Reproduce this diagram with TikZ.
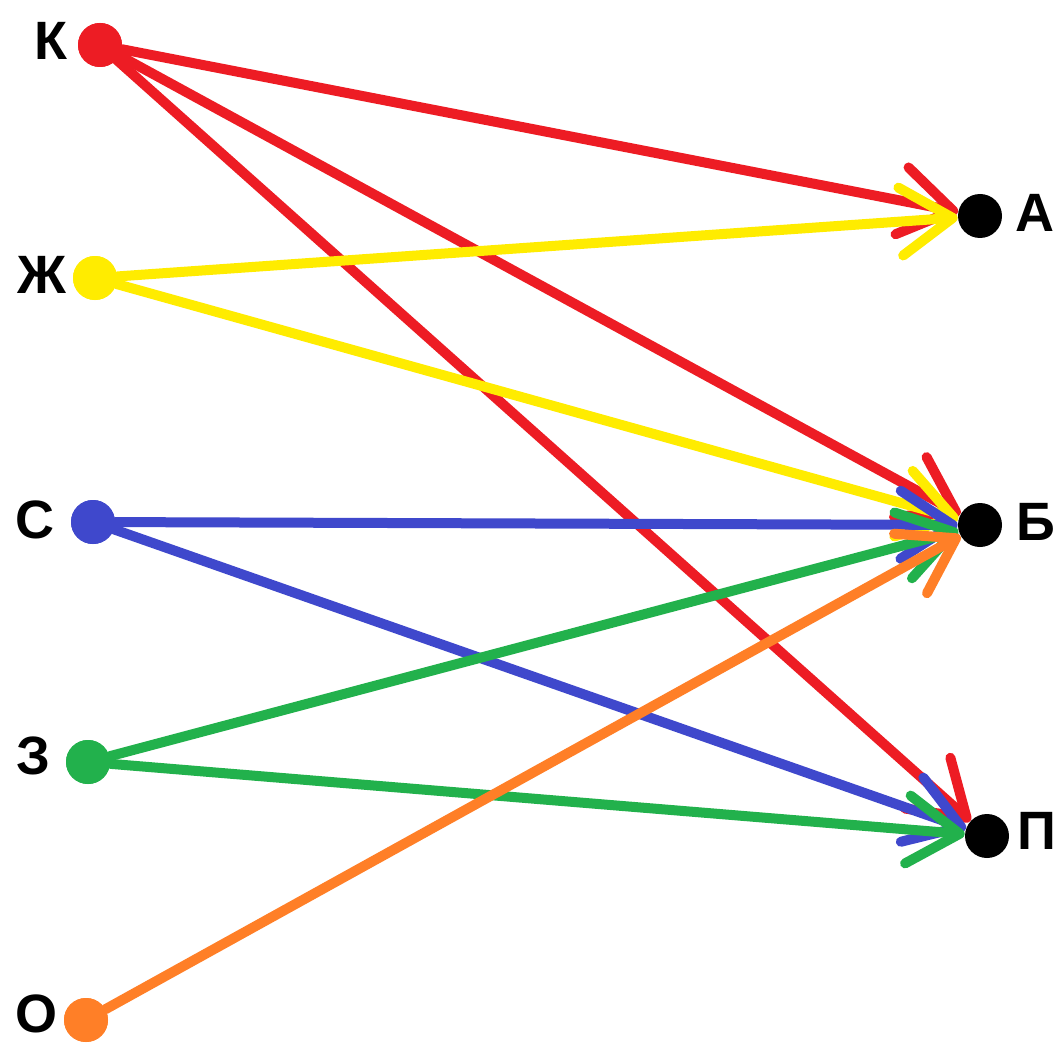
\documentclass[tikz,border=0pt]{standalone}
\usepackage{fontspec}
\setmainfont{Liberation Sans}
\usetikzlibrary{arrows.meta}
\definecolor{cred}{RGB}{237,28,36}
\definecolor{cyellow}{RGB}{255,236,0}
\definecolor{cblue}{RGB}{63,72,204}
\definecolor{cgreen}{RGB}{34,177,76}
\definecolor{corange}{RGB}{255,127,39}
\begin{document}
\begin{tikzpicture}[x=0.5pt,y=-0.5pt,
  dot/.style={circle,fill=#1,inner sep=0pt,minimum size=22pt},
  lbl/.style={font=\fontsize{27}{27}\selectfont\bfseries,inner sep=0pt},
  conn/.style={draw=#1,line width=5pt,line cap=round,line join=round,
    -{Straight Barb[length=26pt,width=34pt,round]}}]
\fill[white] (0,0) rectangle (1059,1043);
\useasboundingbox (0,0) rectangle (1059,1043);
% source dots
\node[dot=cred] (K) at (100,45) {};
\node[dot=cyellow] (Zh) at (95,278) {};
\node[dot=cblue] (S) at (93,522) {};
\node[dot=cgreen] (Z) at (88,762) {};
\node[dot=corange] (O) at (86,1020) {};
% target dots
\node[dot=black] (A) at (980,216) {};
\node[dot=black] (B) at (980,525) {};
\node[dot=black] (P) at (987,836) {};
% labels
\node[lbl] (lK) at (51,41) {К};
\node[lbl] (lZh) at (42,275) {Ж};
\node[lbl] (lS) at (35,520) {С};
\node[lbl] (lZ) at (33,756) {З};
\node[lbl] (lO) at (37,1014) {О};
\node[lbl] (lA) at (1035,213) {А};
\node[lbl] (lB) at (1036,522) {Б};
\node[lbl] (lP) at (1037,831) {П};
% connectors
\draw[conn=cred] (K) -- (A);
\draw[conn=cred] (K) -- (B);
\draw[conn=cred] (K) -- (P);
\draw[conn=cyellow] (Zh) -- (A);
\draw[conn=cyellow] (Zh) -- (B);
\draw[conn=cblue] (S) -- (B);
\draw[conn=cblue] (S) -- (P);
\draw[conn=cgreen] (Z) -- (B);
\draw[conn=cgreen] (Z) -- (P);
\draw[conn=corange] (O) -- (B);
% redraw dots on top
\node[dot=cred] at (K) {};
\node[dot=cyellow] at (Zh) {};
\node[dot=cblue] at (S) {};
\node[dot=cgreen] at (Z) {};
\node[dot=corange] at (O) {};
\end{tikzpicture}
\end{document}
